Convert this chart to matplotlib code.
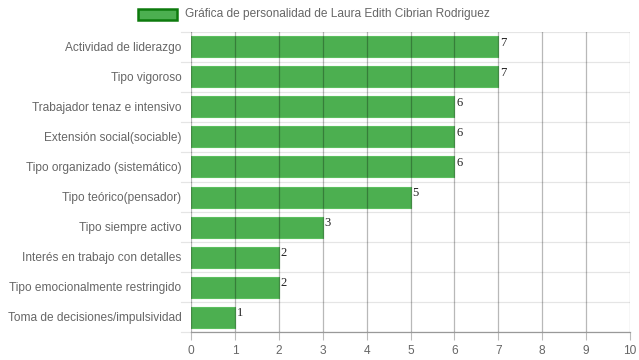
import matplotlib.pyplot as plt
from matplotlib.patches import Rectangle

categorias = ['Actividad de liderazgo', 'Tipo vigoroso', 'Trabajador tenaz e intensivo',
              'Extensión social(sociable)', 'Tipo organizado (sistemático)',
              'Tipo teórico(pensador)', 'Tipo siempre activo',
              'Interés en trabajo con detalles', 'Tipo emocionalmente restringido',
              'Toma de decisiones/impulsividad']
valores = [7, 7, 6, 6, 6, 5, 3, 2, 2, 1]
ticks_x = list(range(0, 11))
titulo = 'Gráfica de personalidad de Laura Edith Cibrian Rodriguez'

plt.rcParams['font.family'] = ['Liberation Sans', 'DejaVu Sans']

fig = plt.figure(figsize=(6.39, 3.6), dpi=100)
ax = fig.add_axes([191 / 639, 28 / 360, 439 / 639, 300 / 360])

n = len(categorias)
pos = list(range(n))
ax.barh(pos, valores, height=0.70, color='#4caf50', edgecolor='#5cbf5f',
        linewidth=0.8, zorder=2)
for y, v in zip(pos, valores):
    ax.text(v + 0.04, y - 0.33, str(v), family='Liberation Serif', fontsize=9,
            color='#222222', va='top', ha='left', zorder=4)

ax.set_xlim(0, 10)
ax.set_ylim(n - 0.5, -0.5)
ax.set_xticks(ticks_x)
ax.set_xticklabels([str(t) for t in ticks_x], fontsize=8.6, color='#666666')
ax.set_yticks(pos)
ax.set_yticklabels(categorias, fontsize=8.55, color='#666666')
ax.tick_params(axis='y', length=0, pad=7)
ax.tick_params(axis='x', length=6, color='#bbbbbb', pad=3)

# vertical grid over the bars
for t in ticks_x:
    ax.axvline(t, color=(0, 0, 0, 0.28), linewidth=0.9, zorder=3)
# horizontal grid at category boundaries, with short ticks on the left
for b in range(n + 1):
    yb = b - 0.5
    ax.axhline(yb, color=(0, 0, 0, 0.1), linewidth=0.9, zorder=1)
    ax.plot([-0.23, 0], [yb, yb], color=(0, 0, 0, 0.1), linewidth=0.9,
            clip_on=False, zorder=1)

for s in ['top', 'right', 'left']:
    ax.spines[s].set_visible(False)
ax.spines['bottom'].set_color('#999999')
ax.spines['bottom'].set_linewidth(0.9)

# legend
fig.patches.append(Rectangle((138 / 639, 1 - 20 / 360), 39 / 639, 11 / 360,
                             transform=fig.transFigure, facecolor='#4caf50',
                             edgecolor='#0d7a0d', linewidth=1.8))
fig.text(185 / 639, 1 - 14 / 360, titulo, fontsize=8.55, color='#666666',
         va='center', ha='left')

fig.savefig('out.png', dpi=100)
